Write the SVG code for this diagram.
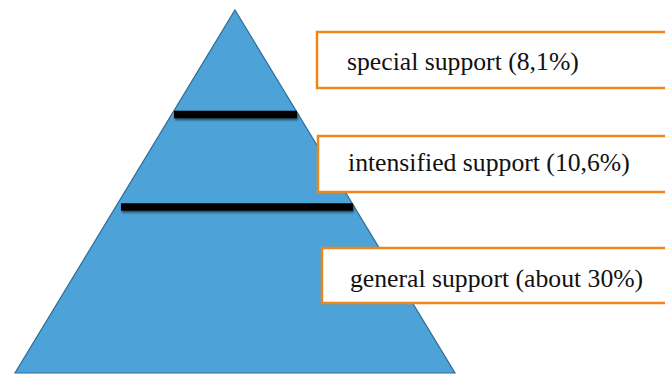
<svg xmlns="http://www.w3.org/2000/svg" width="665" height="377" viewBox="0 0 665 377">
<defs>
<filter id="sh" x="-10%" y="-100%" width="120%" height="300%">
<feGaussianBlur in="SourceAlpha" stdDeviation="1.2"/>
<feOffset dx="1" dy="1.5" result="b"/>
<feComponentTransfer><feFuncA type="linear" slope="0.5"/></feComponentTransfer>
<feMerge><feMergeNode/><feMergeNode in="SourceGraphic"/></feMerge>
</filter>
</defs>
<style>
.box{fill:#ffffff;stroke:#F0861A;stroke-width:2.5}
.lbl{font-family:"Liberation Serif","Times New Roman",serif;font-size:25.7px;fill:#111111}
.bar{stroke:#000000;stroke-width:7.5;stroke-linecap:butt}
</style>
<rect width="665" height="377" fill="#ffffff"/>
<g id="pyramid">
<polygon points="235,10 455,373 15,373" fill="#4DA3D8" stroke="#2F6C96" stroke-width="1.2"/>
</g>
<g id="dividers" filter="url(#sh)">
<line class="bar" x1="174" y1="114.5" x2="297" y2="114.5"/>
<line class="bar" x1="121" y1="207" x2="353" y2="207"/>
</g>
<g id="special">
<rect class="box" x="317" y="32" width="360" height="56"/>
<text class="lbl" x="347" y="70">special support (8,1%)</text>
</g>
<g id="intensified">
<rect class="box" x="318" y="136" width="360" height="56"/>
<text class="lbl" x="348" y="171">intensified support (10,6%)</text>
</g>
<g id="general">
<rect class="box" x="322" y="248" width="360" height="55"/>
<text class="lbl" x="350" y="287">general support (about 30%)</text>
</g>
</svg>
